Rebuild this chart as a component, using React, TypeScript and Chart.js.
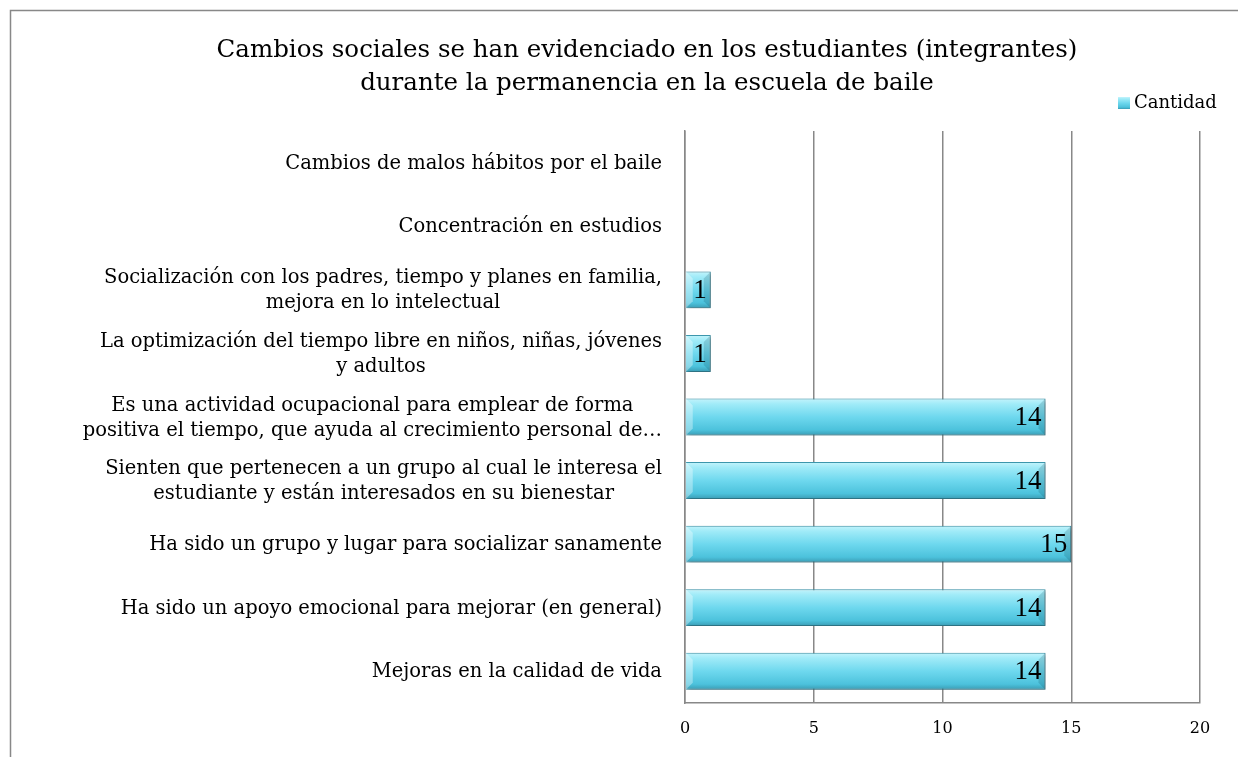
import React, { useEffect, useRef } from "react";
import { Chart, registerables } from "chart.js";

Chart.register(...registerables);

const titleLines = [
  "Cambios sociales se han evidenciado en los estudiantes (integrantes)",
  "durante la permanencia en la escuela de baile",
];
const seriesName = "Cantidad";
const categoryLines: string[][] = [
  ["Cambios de malos hábitos por el baile"],
  ["Concentración en estudios"],
  ["Socialización con los padres, tiempo y planes en familia,", "mejora en lo intelectual"],
  ["La optimización del tiempo libre en niños, niñas, jóvenes", "y adultos"],
  ["Es una actividad ocupacional para emplear de forma", "positiva el tiempo, que ayuda al crecimiento personal de…"],
  ["Sienten que pertenecen a un grupo al cual le interesa el", "estudiante y están interesados en su bienestar"],
  ["Ha sido un grupo y lugar para socializar sanamente"],
  ["Ha sido un apoyo emocional para mejorar (en general)"],
  ["Mejoras en la calidad de vida"],
];
const categories = categoryLines.map((l) => l.join(" "));
const cantidad = [0, 0, 1, 1, 14, 14, 15, 14, 14];
const xMin = 0;
const xMax = 20;
const xStep = 5;

const SERIF = "'DejaVu Serif', serif";
const LSERIF = "'Liberation Serif', 'Times New Roman', serif";
const GRID = "#888888";

function barGradient(ctx: CanvasRenderingContext2D, top: number, bottom: number) {
  const g = ctx.createLinearGradient(0, top, 0, bottom);
  g.addColorStop(0, "#c4f4fc");
  g.addColorStop(0.15, "#a0ebf8");
  g.addColorStop(0.5, "#6ed8ee");
  g.addColorStop(0.85, "#4cc2dc");
  g.addColorStop(1, "#3a9bb3");
  return g;
}

const decorPlugin = {
  id: "decor",
  beforeDraw(chart: any) {
    const ctx = chart.ctx as CanvasRenderingContext2D;
    ctx.save();
    ctx.fillStyle = "#ffffff";
    ctx.fillRect(0, 0, chart.width, chart.height);
    ctx.strokeStyle = GRID;
    ctx.lineWidth = 1.5;
    ctx.beginPath();
    ctx.moveTo(chart.width, 10.5);
    ctx.lineTo(10.5, 10.5);
    ctx.lineTo(10.5, chart.height);
    ctx.stroke();
    // title
    ctx.fillStyle = "#000";
    ctx.font = `24.5px ${SERIF}`;
    ctx.textAlign = "center";
    ctx.textBaseline = "middle";
    titleLines.forEach((t, i) => ctx.fillText(t, 647, 51 + i * 33));
    // legend
    const lx = 1118, ly = 97;
    ctx.fillStyle = barGradient(ctx, ly, ly + 12);
    ctx.fillRect(lx, ly, 12, 12);
    ctx.fillStyle = "#000";
    ctx.font = `18px ${SERIF}`;
    ctx.textAlign = "left";
    ctx.fillText(seriesName, lx + 16, ly + 6);
    ctx.restore();
  },
  beforeDatasetsDraw(chart: any) {
    const ctx = chart.ctx as CanvasRenderingContext2D;
    ctx.save();
    ctx.shadowColor = "rgba(0,0,0,0.35)";
    ctx.shadowBlur = 4;
    ctx.shadowOffsetX = 2;
    ctx.shadowOffsetY = 2;
  },
  afterDatasetsDraw(chart: any) {
    const ctx = chart.ctx as CanvasRenderingContext2D;
    ctx.restore();
    const meta = chart.getDatasetMeta(0);
    // bevel highlight at bar ends
    ctx.save();
    meta.data.forEach((bar: any, i: number) => {
      if (!cantidad[i]) return;
      const x0 = bar.base, x1 = bar.x, t = bar.y - bar.height / 2, b = bar.y + bar.height / 2;
      const d = Math.min(7, (x1 - x0) / 2);
      ctx.fillStyle = "rgba(255,255,255,0.35)";
      ctx.beginPath();
      ctx.moveTo(x0, t); ctx.lineTo(x0 + d, t + d); ctx.lineTo(x0 + d, b - d); ctx.lineTo(x0, b); ctx.closePath();
      ctx.fill();
      ctx.fillStyle = "rgba(0,60,80,0.18)";
      ctx.beginPath();
      ctx.moveTo(x1, t); ctx.lineTo(x1 - d, t + d); ctx.lineTo(x1 - d, b - d); ctx.lineTo(x1, b); ctx.closePath();
      ctx.fill();
    });
    ctx.restore();
    // data labels
    ctx.save();
    ctx.fillStyle = "#000";
    ctx.font = `27px ${LSERIF}`;
    ctx.textAlign = "right";
    ctx.textBaseline = "middle";
    meta.data.forEach((bar: any, i: number) => {
      const v = cantidad[i];
      if (!v) return;
      ctx.fillText(String(v), bar.x - 4, bar.y + 1);
    });
    // category labels (lines centred within a right-aligned block)
    const ys = chart.scales.y;
    const right = 662;
    const lh = 25;
    ctx.font = `19.5px ${SERIF}`;
    ctx.textAlign = "center";
    categoryLines.forEach((lines, i) => {
      const yc = ys.getPixelForValue(i);
      const maxW = Math.max(...lines.map((l) => ctx.measureText(l).width));
      const cx = right - maxW / 2;
      lines.forEach((l, j) => {
        ctx.fillText(l, cx, yc + 1 + (j - (lines.length - 1) / 2) * lh);
      });
    });
    ctx.restore();
  },
};

export default function App() {
  const ref = useRef<HTMLCanvasElement>(null);
  useEffect(() => {
    if (!ref.current) return;
    const chart = new Chart(ref.current, {
      type: "bar",
      data: {
        labels: categories,
        datasets: [
          {
            label: seriesName,
            data: cantidad,
            backgroundColor: (c: any) => {
              const ch = c.chart;
              const ys = ch.scales && ch.scales.y;
              if (c.raw === 0) return "rgba(0,0,0,0)";
              if (!ys || c.dataIndex == null) return "#6fd9ee";
              const yc = ys.getPixelForValue(c.dataIndex);
              const h = 37;
              return barGradient(ch.ctx, yc - h / 2, yc + h / 2);
            },
            borderColor: (c: any) => (c.raw === 0 ? "rgba(0,0,0,0)" : "#3f9cb3"),
            borderWidth: 1,
            borderSkipped: "start",
            barPercentage: 0.58,
            categoryPercentage: 1,
          },
        ],
      },
      options: {
        indexAxis: "y",
        responsive: false,
        animation: false,
        layout: { padding: { top: 131, left: 10, right: 38, bottom: 0 } },
        plugins: {
          legend: { display: false },
          title: { display: false },
          tooltip: { enabled: false },
        },
        scales: {
          x: {
            type: "linear",
            position: "bottom",
            min: xMin,
            max: xMax,
            ticks: {
              stepSize: xStep,
              color: "#000",
              font: { family: SERIF, size: 16 },
              padding: 16,
            },
            grid: { color: GRID, lineWidth: 1.5, drawTicks: false },
            border: { color: GRID, width: 1.5 },
            afterFit: (s: any) => {
              s.height = 54;
            },
          },
          y: {
            type: "category",
            ticks: { display: false },
            grid: { display: false },
            border: { color: GRID, width: 1.5 },
            afterFit: (s: any) => {
              s.width = 675;
            },
          },
        },
      },
      plugins: [decorPlugin],
    } as any);
    return () => chart.destroy();
  }, []);
  return (
    <div style={{ position: "absolute", left: 0, top: 0, width: 1238, height: 757 }}>
      <canvas ref={ref} width={1238} height={757} style={{ display: "block" }} />
    </div>
  );
}
